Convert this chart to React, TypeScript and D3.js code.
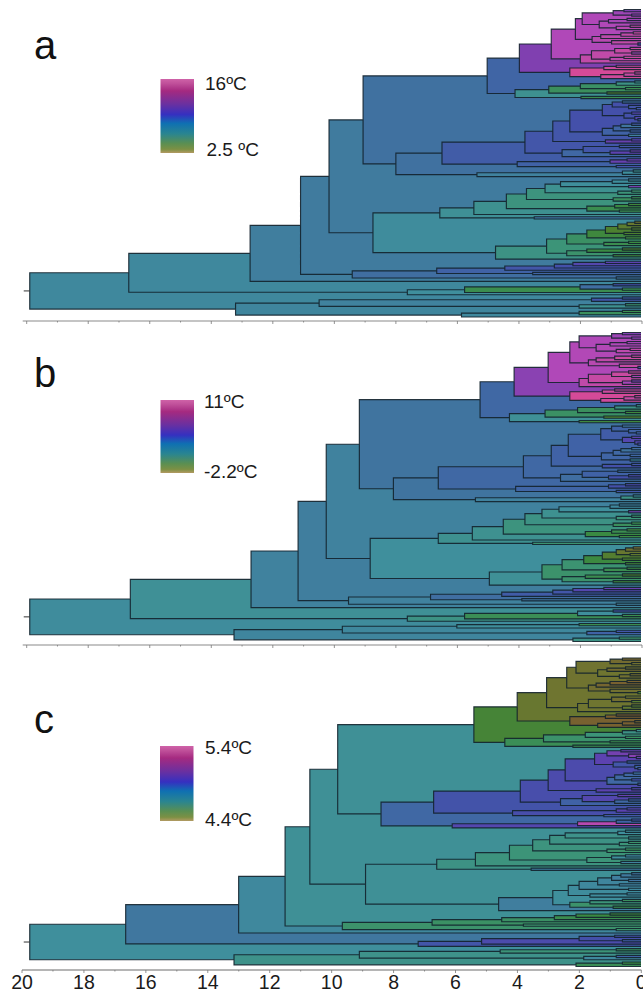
import React from 'react';
import * as d3 from 'd3';

// A clade is [age in Myr, colour position 0..1, upper child, lower child]; a tip is 0
type Clade = 0 | [number, number, Clade, Clade];

const treeA: Clade = [19.75, .44,
  [16.55, .44,
    [12.63, .47,
      [11.0, .48,
        [10.08, .48,
          [8.98, .51,
            [4.97, .55,
              [3.93, .74,
                [2.9, .84,
                  [2.12, .84,
                    [1.9, .84,
                      [.9, .8, [.55, .74, 0, 0], [.3, .78, 0, 0]],
                      [1.35, .84, [1.05, .82, [.45, .8, 0, 0], 0], [.8, .88, [.35, .92, 0, 0], 0]]],
                    [1.58, .88,
                      [1.3, .9, [.65, .92, [.25, .95, 0, 0], 0], 0],
                      [.95, .92, 0, [.1, .64, 0, 0]]]],
                  [1.96, .92,
                    [1.6, .92,
                      [.85, .94, [.35, .96, 0, 0], [.3, .82, 0, 0]],
                      [1.0, .9, [.55, .95, 0, 0], 0]],
                    0]],
                [2.3, 1,
                  [1.2, .97, [.8, .96, 0, 0], 0],
                  [1.3, .98, [.55, .94, [.2, .95, 0, 0], 0], 0]]],
              [4.07, .4,
                [2.98, .32,
                  [1.96, .33, [.8, .38, [.2, .4, 0, 0], 0], [.5, .3, 0, 0]],
                  [1.1, .2, 0, 0]],
                [1.94, .3, 0, 0]]],
            [7.92, .51,
              [6.43, .58,
                [3.75, .6,
                  [2.85, .6,
                    [2.3, .62,
                      [1.25, .62,
                        [.93, .62, [.6, .52, 0, 0], [.4, .6, 0, [.15, .6, 0, 0]]],
                        [.55, .62, [.3, .66, 0, 0], [.2, .66, 0, [.1, .62, 0, 0]]]],
                      [1.25, .56,
                        [.9, .55, [.65, .5, [.3, .58, 0, 0], 0], [.35, .56, 0, 0]],
                        [.4, .46, 0, 0]]],
                    [1.15, .7, [.3, .68, 0, 0], 0]],
                  [2.55, .54,
                    [1.87, .6, [.7, .6, 0, 0], [1, .68, [.35, .7, 0, 0], 0]],
                    0]],
                [4.0, .56, [1.0, .7, [.45, .7, 0, 0], 0], [.8, .62, 0, 0]]],
              [5.3, .46, [.6, .42, [.25, .4, 0, 0], 0], 0]]],
          [8.66, .43,
            [6.5, .41,
              [5.4, .4,
                [4.35, .37,
                  [3.7, .37,
                    [3.1, .4,
                      [2.6, .42, [.93, .42, [.4, .44, 0, 0], 0], [.4, .72, 0, 0]],
                      [.75, .36, [.3, .34, 0, 0], 0]],
                    [.9, .32, [.3, .3, 0, 0], 0]],
                  [1.75, .3,
                    [.85, .28, [.4, .25, 0, 0], 0],
                    [.7, .3, 0, 0]]],
                0],
              [3.45, .5, 0, 0]],
            [4.7, .38,
              [3.05, .36,
                [2.4, .33,
                  [1.75, .26,
                    [1.15, .2, [.75, .16, [.45, .12, [.2, .1, 0, 0], 0], [.3, .18, 0, 0]], [.55, .2, 0, 0]],
                    [.5, .26, 0, 0]],
                  [1.2, .3, [.4, .28, 0, 0], 0]],
                [2.4, .34, [1.75, .28, [.6, .2, 0, 0], 0], [.9, .26, 0, 0]]],
              0]]],
        [9.33, .52,
          [6.6, .56,
            [4.4, .6, [2.8, .62, [2.2, .66, [1.15, .68, 0, 0], 0], 0], 0],
            [3.5, .55, 0, 0]],
          [.8, .5, 0, 0]]],
      0],
    [7.55, .42,
      [5.7, .3, [1.97, .52, [.9, .62, 0, 0], [.6, .3, 0, 0]], 0],
      0]],
  [13.1, .45,
    [10.4, .46, [1.6, .6, [.6, .58, 0, 0], 0], [2, .4, [.5, .34, 0, 0], 0]],
    [5.8, .44, [2, .32, [.6, .3, 0, 0], 0], 0]]];

const treeB: Clade = [19.75, .43,
  [16.5, .41,
    [12.6, .46,
      [11.08, .47,
        [10.17, .46,
          [9.1, .5,
            [5.2, .54,
              [4.1, .76,
                [3.0, .84,
                  [2.3, .85,
                    [2.0, .84,
                      [.95, .8, [.6, .74, 0, 0], [.3, .78, 0, 0]],
                      [1.45, .85, [1.0, .84, [.45, .82, 0, 0], 0], [.8, .9, [.35, .92, 0, 0], 0]]],
                    [1.7, .88,
                      [1.45, .92, [.85, .96, [.3, .95, 0, 0], 0], 0],
                      [.7, .94, 0, [.1, .64, 0, 0]]]],
                  [2.0, .92,
                    [1.7, .94,
                      [.95, .96, [.4, .96, 0, 0], [.3, .82, 0, 0]],
                      [.6, .82, [.3, .74, 0, 0], 0]],
                    0]],
                [2.3, 1,
                  [1.25, .97, [.85, .96, 0, 0], 0],
                  [1.3, .98, [.55, .94, [.2, .95, 0, 0], 0], 0]]],
              [4.25, .41,
                [3.1, .33,
                  [2.05, .32, [.85, .38, [.15, .4, 0, 0], 0], [.5, .26, 0, 0]],
                  [1.2, .2, 0, 0]],
                [2.0, .26, 0, 0]]],
            [8.0, .5,
              [6.55, .54,
                [3.8, .54,
                  [2.9, .56,
                    [2.35, .56,
                      [1.3, .58,
                        [.95, .56, [.6, .5, 0, 0], [.4, .56, 0, [.15, .56, 0, 0]]],
                        [.6, .66, [.3, .68, 0, 0], [.2, .66, 0, [.1, .62, 0, 0]]]],
                      [1.28, .55,
                        [.9, .54, [.65, .5, [.3, .52, 0, 0], 0], [.35, .54, 0, 0]],
                        [.35, .44, 0, 0]]],
                    [1.25, .62, [.3, .6, 0, 0], 0]],
                  [2.6, .52,
                    [1.9, .56, [.75, .54, 0, 0], [1.05, .62, [.4, .64, 0, 0], 0]],
                    0]],
                [4.05, .55, [1.05, .62, [.5, .64, 0, 0], 0], [.8, .6, 0, 0]]],
              [5.35, .46, [.65, .38, [.25, .42, 0, 0], 0], 0]]],
          [8.75, .42,
            [6.55, .4,
              [5.45, .4,
                [4.45, .37,
                  [3.75, .38,
                    [3.2, .4,
                      [2.65, .42, [1.0, .44, [.7, .46, 0, 0], 0], [.4, .72, 0, 0]],
                      [.8, .36, [.3, .34, 0, 0], 0]],
                    [.9, .32, [.3, .3, 0, 0], 0]],
                  [1.8, .28,
                    [.95, .3, [.45, .26, 0, 0], 0],
                    [.7, .28, 0, 0]]],
                0],
              [3.5, .35, 0, 0]],
            [4.9, .41,
              [3.2, .34,
                [2.55, .35,
                  [1.85, .27,
                    [1.25, .18, [.8, .12, [.5, .08, [.25, .06, 0, 0], 0], [.35, .14, 0, 0]], [.6, .2, 0, 0]],
                    [.5, .24, 0, 0]],
                  [1.2, .3, [.45, .28, 0, 0], 0]],
                [2.55, .34, [1.8, .3, [.6, .2, 0, 0], 0], [.9, .26, 0, 0]]],
              0]]],
        [9.45, .46,
          [6.8, .52,
            [4.5, .58, [2.85, .6, [2.2, .66, [1.2, .7, 0, 0], 0], 0], 0],
            [3.85, .5, 0, 0]],
          [.8, .46, 0, 0]]],
      0],
    [7.55, .38,
      [5.7, .31, [2.05, .42, [.9, .6, 0, 0], [.6, .3, 0, 0]], 0],
      0]],
  [13.15, .45,
    [9.65, .44, [5.95, .42, [2, .3, 0, 0], 0], [1.75, .56, [.8, .6, 0, 0], 0]],
    [2.2, .38, [.7, .34, 0, 0], 0]]];

const treeC: Clade = [19.75, .42,
  [16.65, .49,
    [13.0, .44,
      [11.5, .41,
        [10.7, .41,
          [9.8, .41,
            [5.4, .23,
              [4.0, .12,
                [3.05, .1,
                  [2.4, .09,
                    [2.1, .09,
                      [1.0, .06, [.6, .04, 0, 0], [.3, .08, 0, 0]],
                      [1.4, .1, [1.1, .06, [.5, .08, 0, 0], 0], [.7, .08, [.35, .06, 0, 0], 0]]],
                    [1.7, .07,
                      [1.45, .04, [1.0, .02, [.45, .02, 0, 0], 0], 0],
                      [1.0, .08, 0, [.1, .2, 0, 0]]]],
                  [2.05, .1,
                    [1.7, .1,
                      [.95, .07, [.5, .1, 0, 0], [.3, .16, 0, 0]],
                      [.6, .14, [.3, .16, 0, 0], 0]],
                    0]],
                [2.3, .02,
                  [1.15, .01, [.8, .0, 0, 0], 0],
                  [1.4, .02, [.6, .01, [.2, .04, 0, 0], 0], 0]]],
              [4.4, .31,
                [3.15, .34,
                  [1.8, .36, [.6, .38, [.15, .4, 0, 0], 0], [.5, .32, 0, 0]],
                  [1.0, .3, 0, 0]],
                [2.2, .3, 0, 0]]],
            [8.4, .54,
              [6.7, .61,
                [3.9, .63,
                  [3.0, .64,
                    [2.45, .64,
                      [1.5, .68,
                        [1.1, .72, [.65, .7, 0, 0], [.4, .76, 0, [.15, .7, 0, 0]]],
                        [.9, .6, [.45, .56, 0, 0], [.2, .56, 0, [.1, .6, 0, 0]]]],
                      [1.1, .54,
                        [.85, .54, [.55, .54, [.25, .52, 0, 0], 0], [.3, .62, 0, 0]],
                        [.1, .6, 0, 0]]],
                    [1.45, .68, [.3, .66, 0, 0], 0]],
                  [2.6, .56,
                    [1.9, .66, [.75, .7, 0, 0], [.85, .54, [.4, .56, 0, 0], 0]],
                    0]],
                [4.15, .63, [.8, .68, [.45, .66, 0, 0], 0], [1.2, .6, 0, 0]]],
              [6.1, .66, [2.05, .88, [.8, .56, [.3, .6, 0, 0], 0], 0], 0]]],
          [8.9, .41,
            [6.6, .38,
              [5.35, .37,
                [4.25, .36,
                  [3.5, .37,
                    [2.95, .38,
                      [2.45, .39, [.75, .42, [.5, .42, 0, 0], 0], [.4, .4, 0, 0]],
                      [.7, .36, [.4, .34, 0, 0], 0]],
                    [1.1, .34, [.5, .32, 0, 0], 0]],
                  [1.75, .36,
                    [.95, .42, [.5, .44, 0, 0], 0],
                    [.65, .46, 0, 0]]],
                0],
              [3.55, .48, 0, 0]],
            [4.6, .47,
              [2.85, .42,
                [2.35, .43,
                  [2.0, .44,
                    [1.4, .45, [.95, .47, [.65, .48, [.3, .5, 0, 0], 0], [.4, .5, 0, 0]], [.7, .46, 0, 0]],
                    [.4, .44, 0, 0]],
                  [1.65, .43, [.45, .44, 0, 0], 0]],
                [2.3, .34, [1.65, .36, [.6, .32, 0, 0], 0], [.9, .3, 0, 0]]],
              0]]],
        [9.65, .34,
          [6.75, .33,
            [4.5, .33, [2.8, .3, [2.1, .28, [1.0, .26, 0, 0], 0], 0], 0],
            [3.8, .34, 0, 0]],
          [.8, .34, 0, 0]]],
      0],
    [7.2, .6,
      [5.15, .64, [2.0, .62, [.85, .62, 0, 0], [.6, .58, 0, 0]], 0],
      0]],
  [13.15, .39,
    [9.1, .39, [4.55, .36, [.8, .32, 0, 0], 0], [1.85, .44, [.8, .56, 0, 0], 0]],
    [2.1, .31, [.6, .28, 0, 0], 0]]];

const panelLabels = ['a', 'b', 'c'];
const highLabels = ['16ºC', '11ºC', '5.4ºC'];
const lowLabels = ['2.5 ºC', '-2.2ºC', '4.4ºC'];
const trees = [treeA, treeB, treeC];
const ageTicks = [20, 18, 16, 14, 12, 10, 8, 6, 4, 2, 0];

// colours seen on the branches, brown (cold) to pink (warm)
const stopAt = [0, .1, .2, .28, .36, .42, .5, .56, .62, .68, .74, .84, .92, 1];
const stopColor = ['#7a5c30', '#6f7530', '#4d8030', '#3a8a42', '#3c9478', '#3f8f9c', '#40749f', '#4062a6', '#4450aa', '#5c42b0', '#8040b0', '#b048b8', '#c04aa8', '#d44a98'];
const legendAt = [0, .05, .13, .26, .4, .52, .66, .84, .94, 1];
const legendColor = ['#b39a62', '#7c9044', '#5a8f52', '#2a8590', '#0f70b2', '#3530c0', '#6a30a0', '#a52a80', '#c0509a', '#cf62a8'];

const color = d3.scaleLinear<string>().domain(stopAt).range(stopColor);
const x = d3.scaleLinear().domain([20, 0]).range([22, 641]);

const LINE = '#13222c';
const FONT = '"Liberation Sans", Arial, sans-serif';

type Layout = d3.HierarchyNode<Clade> & { py?: number };

function layout(tree: Clade, top: number, bottom: number) {
  const root = d3.hierarchy<Clade>(tree, d => (d === 0 ? null : [d[2], d[3]])) as Layout;
  const y = d3.scaleLinear().domain([0, root.leaves().length - 1]).range([top, bottom]);
  let tip = 0;
  root.eachAfter((n: Layout) => {
    n.py = n.children ? d3.mean(n.children as Layout[], c => c.py) : y(tip++);
  });
  return root;
}

const age = (n: Layout) => (n.data === 0 ? 0 : n.data[0]);

const Tree = ({ tree, top, bottom }: { tree: Clade; top: number; bottom: number }) => {
  const root = layout(tree, top, bottom);
  const nodes = root.descendants().filter(n => n.children) as Layout[];
  return (
    <g>
      {nodes.map((n, i) => {
        const [a, b] = n.children as Layout[];
        return <rect key={i} x={x(age(n))} y={a.py} width={x(0) - x(age(n))} height={b.py! - a.py!}
          fill={color((n.data as number[])[1])} />;
      })}
      <path fill="none" stroke={LINE} strokeWidth={1.15} strokeOpacity={0.9} d={nodes.map(n => {
        const [a, b] = n.children as Layout[];
        return `M${x(age(a))},${a.py}H${x(age(n))}V${b.py}H${x(age(b))}`;
      }).join('')} />
      <line x1={x(age(root)) - 6} x2={x(age(root))} y1={root.py} y2={root.py} stroke="#333" />
    </g>
  );
};

const Axis = ({ y, x0, x1, labelled }: { y: number; x0: number; x1: number; labelled?: boolean }) => {
  const s = d3.scaleLinear().domain([20, 0]).range([x0, x1]);
  const stroke = labelled ? '#b5b5b5' : '#8a8a8a';
  return (
    <g fontFamily={FONT} fontSize={19.5} fill="#1a1a1a" textAnchor="middle">
      <line x1={x0 - (labelled ? 0 : 4)} x2={x1} y1={y} y2={y} stroke={stroke} strokeWidth={labelled ? 2 : 1.2} />
      {s.ticks(20).map(t => (
        <line key={t} x1={s(t)} x2={s(t)} y1={y} y2={y + (t % 2 === 0 ? 3 : 1.5)} stroke="#777" strokeWidth={0.8} />
      ))}
      {labelled && ageTicks.map(t => <text key={t} x={s(t)} y={y + 18.5}>{t}</text>)}
    </g>
  );
};

const Legend = ({ id, x0, top, bottom, hi, lo, hiY, loY, tx, lx }:
  { id: string; x0: number; top: number; bottom: number; hi: string; lo: string; hiY: number; loY: number; tx: number; lx: number }) => (
  <g fontFamily={FONT} fontSize={19} fill="#1a1a1a">
    <rect x={x0} y={top} width={33.5} height={bottom - top} fill={`url(#${id})`} />
    <text x={tx} y={hiY}>{hi}</text>
    <text x={lx} y={loY}>{lo}</text>
  </g>
);

export default function App() {
  return (
    <svg width={643} height={993} style={{ position: 'absolute', left: 0, top: 0, display: 'block' }}>
      <defs>
        <linearGradient id="legendRamp" x1="0" y1="1" x2="0" y2="0">
          {legendAt.map((o, i) => <stop key={o} offset={o} stopColor={legendColor[i]} />)}
        </linearGradient>
      </defs>
      <Tree tree={trees[0]} top={9.5} bottom={317} />
      <Tree tree={trees[1]} top={332.5} bottom={641.5} />
      <Tree tree={trees[2]} top={658} bottom={966.5} />
      <Axis y={321} x0={26.7} x1={642} />
      <Axis y={645} x0={26.7} x1={642} />
      <Axis y={970} x0={22} x1={641.3} labelled />
      <g fontFamily={FONT} fontSize={40} fill="#111">
        <text x={34} y={59}>{panelLabels[0]}</text>
        <text x={34} y={387}>{panelLabels[1]}</text>
        <text x={34} y={733}>{panelLabels[2]}</text>
      </g>
      <Legend id="legendRamp" x0={160.5} top={79} bottom={153} hi={highLabels[0]} lo={lowLabels[0]} hiY={90} loY={155.5} tx={205} lx={206.5} />
      <Legend id="legendRamp" x0={160.5} top={400} bottom={473} hi={highLabels[1]} lo={lowLabels[1]} hiY={407.5} loY={478} tx={204} lx={204} />
      <Legend id="legendRamp" x0={160} top={746} bottom={821} hi={highLabels[2]} lo={lowLabels[2]} hiY={754} loY={826} tx={205} lx={205} />
    </svg>
  );
}
